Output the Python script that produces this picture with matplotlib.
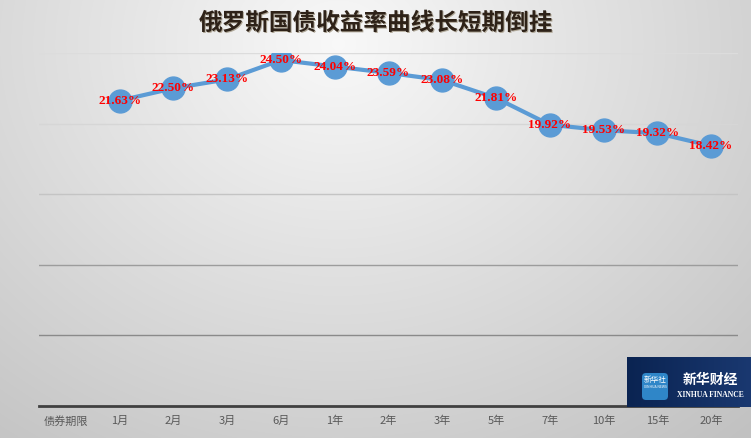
import numpy as np
import matplotlib.pyplot as plt
from matplotlib.patches import Rectangle, FancyBboxPatch

# === Daten ===
kategorien = ["债券期限", "1月", "2月", "3月", "6月", "1年", "2年", "3年",
              "5年", "7年", "10年", "15年", "20年"]
rendite = [np.nan, 21.63, 22.50, 23.13, 24.50, 24.04, 23.59, 23.08,
           21.81, 19.92, 19.53, 19.32, 18.42]
titel = "俄罗斯国债收益率曲线长短期倒挂"
y_ticks = [5, 10, 15, 20, 25]
grid_farben = ["#8a8a8a", "#9c9c9c", "#c4c4c4", "#d6d6d6", "#dcdcdc"]

plt.rcParams['font.family'] = ['Noto Sans CJK SC', 'DejaVu Sans']

W, H = 751, 438
fig = plt.figure(figsize=(W / 100, H / 100), dpi=100)

# === Hintergrund: radialer Grauverlauf ===
bg = fig.add_axes([0, 0, 1, 1])
yy, xx = np.mgrid[0:H, 0:W]
r = np.sqrt(((xx - 0.45 * W) / (0.75 * W)) ** 2 + ((yy - 0.1 * H) / (1.1 * H)) ** 2)
val = np.clip(0.975 - 0.2 * r, 0.76, 0.98)
bg.imshow(np.dstack([val, val, val]), aspect='auto', extent=[0, 1, 0, 1])
bg.axis('off')

# === Diagramm ===
left, right = 39 / W, 738 / W
bottom, top = 1 - 406 / H, 1 - 53 / H
ax = fig.add_axes([left, bottom, right - left, top - bottom])
ax.patch.set_alpha(0)

x = np.arange(len(kategorien))
for yt, c in zip(y_ticks, grid_farben):
    ax.axhline(yt, color=c, lw=1.0, zorder=1)

ax.plot(x, rendite, color="#5b9bd5", lw=3, marker='o', markersize=16.5,
        markerfacecolor="#5b9bd5", markeredgecolor="#5b9bd5", zorder=3)

for xi, v in zip(x, rendite):
    if np.isnan(v):
        continue
    ax.text(xi, v, f"{v:.2f}%", ha='center', va='center', color='red',
            fontsize=9.5, fontweight='bold', family='Liberation Serif', zorder=4)

ax.set_xlim(-0.5, len(kategorien) - 0.5)
ax.set_ylim(0, 25)
ax.set_xticks(x)
ax.set_xticklabels(kategorien, fontsize=8, color="#595959")
ax.set_yticks([])
ax.tick_params(axis='x', length=0, pad=7)
for s in ['top', 'right', 'left']:
    ax.spines[s].set_visible(False)
ax.spines['bottom'].set_color("#404040")
ax.spines['bottom'].set_linewidth(2)

# === Titel ===
fig.text(0.5 + 1.2 / W, 1 - 23.5 / H, titel, ha='center', va='center',
         fontsize=17, fontweight='bold', color="#b0a898")
fig.text(0.5, 1 - 22 / H, titel, ha='center', va='center',
         fontsize=17, fontweight='bold', color="#2e2218")

# === Logo unten rechts ===
lg = fig.add_axes([627 / W, 1 - 407 / H, 124 / W, 50 / H])
lg.set_xlim(0, 124)
lg.set_ylim(0, 50)
lg.axis('off')
grad = np.linspace(0, 1, 124)[None, :]
logo_bg = np.dstack([0.04 + 0.06 * grad, 0.14 + 0.08 * grad, 0.32 + 0.12 * grad])
lg.imshow(np.repeat(logo_bg, 50, axis=0), extent=[0, 124, 0, 50], aspect='auto')
lg.add_patch(FancyBboxPatch((15, 7), 26, 27, boxstyle="round,pad=0,rounding_size=4",
                            fc="#2f86c8", ec="none"))
lg.text(28, 27, "新华社", ha='center', va='center', color='white', fontsize=5.5)
lg.text(28, 20, "XINHUA NEWS", ha='center', va='center', color='white', fontsize=2.5)
lg.text(83, 27, "新华财经", ha='center', va='center', color='white',
        fontsize=10, fontweight='bold', style='italic')
lg.text(83, 12, "XINHUA FINANCE", ha='center', va='center', color='white',
        fontsize=5.5, family='Liberation Serif', fontweight='bold')

fig.savefig("out.png", dpi=100)
